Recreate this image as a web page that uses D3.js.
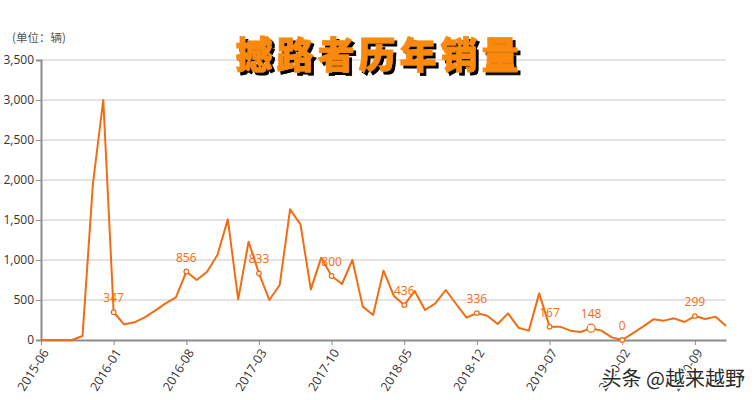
<!DOCTYPE html>
<html><head><meta charset="utf-8">
<script src="https://cdn.jsdelivr.net/npm/d3@7"></script>
<style>
html,body{margin:0;padding:0;background:#fff;}
svg{display:block;}
</style></head>
<body><svg id="c" width="756" height="400"></svg>
<script>
const months = ["2015-06","2015-07","2015-08","2015-09","2015-10","2015-11","2015-12",
"2016-01","2016-02","2016-03","2016-04","2016-05","2016-06","2016-07","2016-08","2016-09","2016-10","2016-11","2016-12",
"2017-01","2017-02","2017-03","2017-04","2017-05","2017-06","2017-07","2017-08","2017-09","2017-10","2017-11","2017-12",
"2018-01","2018-02","2018-03","2018-04","2018-05","2018-06","2018-07","2018-08","2018-09","2018-10","2018-11","2018-12",
"2019-01","2019-02","2019-03","2019-04","2019-05","2019-06","2019-07","2019-08","2019-09","2019-10","2019-11","2019-12",
"2020-01","2020-02","2020-03","2020-04","2020-05","2020-06","2020-07","2020-08","2020-09","2020-10","2020-11","2020-12"];
const sales = [0,0,0,0,50,1950,3000,
347,196,221,283,367,458,533,856,750,854,1063,1508,
508,1229,833,500,688,1633,1446,633,1029,800,700,1000,
417,313,867,550,436,612,375,458,625,450,281,336,
304,200,333,154,117,583,167,167,117,100,148,117,
33,0,83,167,258,242,271,225,299,262,292,175];
const tickMonths = ["2015-06","2016-01","2016-08","2017-03","2017-10","2018-05","2018-12","2019-07","2020-02","2020-09"];
const labeledMonths = ["2016-01","2016-08","2017-03","2017-10","2018-05","2018-12","2019-07","2019-11","2020-02","2020-09"];
const highlightMonth = "2019-11";
const yTicks = [0,500,1000,1500,2000,2500,3000,3500];
const title = "撼路者历年销量";
const unitText = "(单位：辆)";
const watermark = "头条 @越来越野";

const svg = d3.select("#c");
const color = "#f26c12";
const numFont = "'Open Sans','Noto Sans CJK SC',sans-serif";

const defs = svg.append("defs");
const f = defs.append("filter").attr("id","shadow").attr("x","-10%").attr("y","-20%").attr("width","130%").attr("height","150%");
f.append("feDropShadow").attr("dx",3).attr("dy",3).attr("stdDeviation",0.4).attr("flood-color","#000").attr("flood-opacity",1);

const x = d3.scalePoint().domain(months).range([41, 726]);
const y = d3.scaleLinear().domain([0, 3500]).range([340, 60]);

// grid
svg.append("g").selectAll("line").data(yTicks.filter(d=>d>0)).join("line")
  .attr("x1", 41).attr("x2", 726)
  .attr("y1", d=>y(d)).attr("y2", d=>y(d))
  .attr("stroke", "#c8c8c8").attr("stroke-width", 1);

// y axis
const ya = svg.append("g").attr("transform","translate(41,0)")
  .call(d3.axisLeft(y).tickValues(yTicks).tickFormat(d3.format(",")).tickSize(5).tickPadding(2));
ya.select(".domain").attr("stroke","#8c8c8c").attr("stroke-width",2);
ya.selectAll(".tick line").attr("stroke","#8c8c8c");
ya.selectAll("text").attr("font-family",numFont).attr("font-size",12).attr("fill","#333");

// x axis
const xa = svg.append("g").attr("transform","translate(0,340)")
  .call(d3.axisBottom(x).tickValues(tickMonths).tickSize(5).tickSizeOuter(0));
xa.select(".domain").attr("stroke","#8c8c8c").attr("stroke-width",2);
xa.selectAll(".tick line").attr("stroke","#8c8c8c");
xa.selectAll("text").attr("font-family",numFont).attr("font-size",12.5).attr("fill","#333")
  .attr("text-anchor","end").attr("dy","0.35em").attr("dx","0")
  .attr("transform","translate(4,10) rotate(-58)").attr("y",0).attr("x",0);

// line
const data = months.map((m,i)=>({m, v: sales[i]}));
svg.append("path").datum(data)
  .attr("fill","none").attr("stroke",color).attr("stroke-width",2)
  .attr("stroke-linejoin","round")
  .attr("d", d3.line().x(d=>x(d.m)).y(d=>y(d.v)));

// points and labels
const lab = data.filter(d=>labeledMonths.includes(d.m));
svg.append("g").selectAll("circle").data(lab).join("circle")
  .attr("cx",d=>x(d.m)).attr("cy",d=>y(d.v))
  .attr("r",d=>d.m===highlightMonth?4:2.3)
  .attr("fill","#fff").attr("stroke",color).attr("stroke-width",1.2);
svg.append("g").selectAll("text").data(lab).join("text")
  .attr("x",d=>x(d.m)).attr("y",d=>y(d.v)-10)
  .attr("text-anchor","middle").attr("font-family",numFont).attr("font-size",12)
  .attr("fill",color).text(d=>d.v);

// unit
svg.append("text").attr("x",12).attr("y",42).attr("font-family","'Noto Sans CJK SC',sans-serif")
  .attr("font-size",11.5).attr("fill","#555").text(unitText);

// title
svg.append("text").attr("x",379).attr("y",69).attr("text-anchor","middle")
  .attr("font-family","'Noto Sans CJK SC',sans-serif").attr("font-weight",900)
  .attr("font-size",37).attr("letter-spacing",4).attr("fill","#f98a0d")
  .attr("stroke","#f98a0d").attr("stroke-width",0.8)
  .attr("filter","url(#shadow)").text(title);

// watermark
svg.append("text").attr("x",745).attr("y",386).attr("text-anchor","end")
  .attr("font-family","'Noto Sans CJK SC',sans-serif").attr("font-size",20)
  .attr("fill","#2a2a2a").attr("stroke","#fff").attr("stroke-width",3)
  .attr("paint-order","stroke").text(watermark);
</script></body></html>
